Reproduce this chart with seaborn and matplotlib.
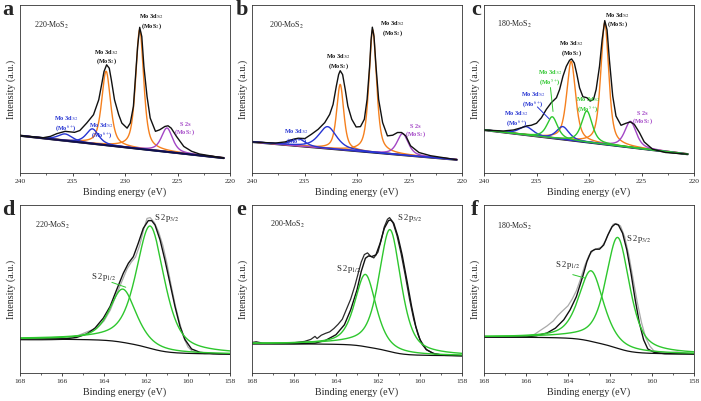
import numpy as np
import matplotlib
matplotlib.use("Agg")
import matplotlib.pyplot as plt
import seaborn as sns
from matplotlib.ticker import MultipleLocator, AutoMinorLocator

# ---------------- Mo 3d panels (a, b, c) ----------------
# measured envelope (black), energies in eV, intensity in a.u. (0-100 axis)
a_env_e = [240.0, 237.8, 237.1, 236.5, 235.7, 234.8, 234.3, 233.65, 233.0, 232.5, 232.2, 232.0, 231.75,
           231.5, 231.3, 231.0, 230.6, 230.3, 229.8, 229.5, 229.2, 229.0, 228.8, 228.6, 228.4, 228.2,
           227.9, 227.6, 227.1, 226.7, 226.2, 225.9, 225.6, 225.1, 224.4, 223.65, 222.9, 220.6]
a_env_y = [22.2, 21.0, 21.8, 23.4, 24.8, 24.2, 25.3, 29.7, 34.7, 43.6, 53.5, 60.4, 64.4,
           62.4, 55.4, 43.6, 34.7, 29.7, 26.7, 29.7, 39.6, 57.4, 75.2, 86.7, 81.2, 63.4,
           45.5, 32.7, 24.8, 25.7, 27.7, 28.1, 26.7, 21.8, 15.8, 12.9, 11.3, 8.9]
a_span = [240.0, 220.6]
a_base = [22.2, 8.9]
a_centers = [228.6, 231.8, 226.0, 233.1, 235.7]
a_heights = [71.0, 44.0, 14.2, 8.8, 4.0]
a_fwhm = [0.9, 1.0, 1.25, 1.4, 1.6]
a_kind = ["MoS2", "MoS2", "S2s", "Mo6", "Mo6"]

b_env_e = [240.0, 237.8, 236.85, 236.06, 235.6, 234.96, 234.33, 233.7, 233.07, 232.6, 232.28, 231.97,
           231.75, 231.6, 231.37, 231.12, 230.87, 230.5, 230.08, 229.67, 229.3, 229.04, 228.8, 228.66,
           228.54, 228.38, 228.19, 227.94, 227.56, 227.1, 226.6, 226.14, 225.76, 225.35, 224.9, 224.1,
           223.0, 220.5]
b_env_y = [18.5, 17.8, 18.5, 20.1, 20.7, 20.5, 23.1, 26.0, 30.0, 34.9, 40.8, 51.7,
           58.6, 60.9, 58.6, 49.7, 39.8, 32.0, 27.4, 27.6, 32.0, 43.8, 63.5, 79.3,
           86.8, 81.3, 63.5, 43.8, 30.0, 22.1, 22.5, 24.1, 24.1, 22.1, 16.2, 12.2,
           10.3, 7.9]
b_span = [240.0, 220.5]
b_base = [18.5, 7.9]
b_centers = [228.5, 231.6, 225.65, 232.8, 235.6]
b_heights = [73.0, 38.8, 12.8, 13.0, 4.3]
b_fwhm = [0.85, 0.8, 1.25, 2.0, 1.6]
b_kind = ["MoS2", "MoS2", "S2s", "Mo6", "Mo6"]

c_env_e = [240.0, 238.17, 237.2, 236.4, 235.96, 235.5, 235.0, 234.53, 234.06, 233.6, 233.1, 232.8,
           232.48, 232.16, 231.85, 231.66, 231.4, 231.15, 230.9, 230.58, 230.2, 229.89, 229.57, 229.32,
           229.0, 228.75, 228.5, 228.28, 228.06, 227.74, 227.43, 226.95, 226.48, 226.07, 225.69, 225.2,
           224.74, 223.95, 222.7, 220.63]
c_env_y = [25.6, 25.0, 25.6, 27.0, 28.0, 28.4, 29.6, 32.9, 37.9, 41.8, 44.8, 49.7,
           57.6, 63.5, 67.1, 67.9, 65.5, 58.6, 50.7, 45.4, 44.8, 42.8, 43.8, 49.7,
           63.5, 79.3, 90.7, 85.2, 67.5, 45.8, 33.9, 28.4, 29.6, 30.4, 29.0, 24.1,
           18.5, 14.2, 12.2, 11.2]
c_span = [240.0, 220.6]
c_base = [25.6, 11.2]
c_centers = [228.5, 231.7, 226.05, 232.5, 236.0, 230.2, 233.5]
c_heights = [72.4, 47.0, 15.5, 7.6, 5.0, 18.6, 12.7]
c_fwhm = [0.9, 1.0, 1.3, 1.4, 1.6, 1.2, 1.2]
c_kind = ["MoS2", "MoS2", "S2s", "Mo6", "Mo6", "Mo5", "Mo5"]

# ---------------- S 2p panels (d, e, f) ----------------
d_env_e = [168.0, 165.78, 165.3, 164.83, 164.43, 164.03, 163.71, 163.4, 163.08, 162.84, 162.6, 162.37,
           162.13, 161.89, 161.73, 161.57, 161.33, 161.1, 160.86, 160.62, 160.38, 160.14, 159.83,
           159.43, 158.8, 158.0]
d_env_y = [20.2, 20.4, 21.2, 23.2, 26.7, 32.7, 39.6, 49.5, 59.4, 65.3, 69.3, 77.2,
           86.1, 90.7, 90.7, 88.1, 79.2, 67.3, 53.5, 39.6, 27.7, 19.8, 14.3,
           12.3, 11.5, 11.3]
d_raw_e = [168.0, 167.5, 167.0, 166.5, 166.0, 165.5, 165.2, 164.8, 164.5, 164.2, 164.0, 163.7, 163.4,
           163.1, 162.9, 162.7, 162.5, 162.3, 162.1, 161.95, 161.8, 161.6, 161.4, 161.2, 161.0, 160.8,
           160.6, 160.4, 160.2, 160.0, 159.8, 159.5, 159.2, 158.8, 158.5, 158.0]
d_raw_y = [19.5, 19.4, 19.4, 19.6, 20.0, 21.5, 22.5, 24.5, 26.0, 28.5, 31.0, 37.5, 47.0,
           56.0, 62.0, 66.0, 69.0, 76.0, 86.0, 92.0, 92.5, 89.5, 84.0, 76.0, 65.0, 52.0,
           40.0, 30.0, 21.0, 15.5, 13.0, 12.0, 11.5, 11.8, 11.2, 11.3]
d_shirley = [20.2, 11.3]   # high-BE and low-BE background level
d_centers = [161.8, 163.1]
d_heights = [72.8, 31.7]
d_fwhm = [1.6, 1.5]

e_env_e = [168.0, 166.0, 165.0, 164.5, 164.0, 163.6, 163.3, 163.0, 162.8, 162.6, 162.45, 162.3, 162.1,
           161.9, 161.7, 161.5, 161.4, 161.25, 161.05, 160.85, 160.6, 160.4, 160.2, 160.0, 159.7,
           159.3, 158.8, 158.0]
e_env_y = [17.4, 17.4, 17.8, 19.4, 22.8, 28.7, 37.6, 49.5, 60.4, 68.3, 69.7, 69.3, 70.3,
           77.2, 86.1, 90.7, 91.1, 89.1, 81.2, 70.3, 53.5, 39.6, 27.7, 19.8, 13.9,
           11.3, 10.5, 10.3]
e_raw_e = [168.0, 167.8, 167.5, 167.0, 166.5, 166.0, 165.5, 165.2, 165.0, 164.9, 164.7, 164.5, 164.3,
           164.1, 163.9, 163.7, 163.5, 163.3, 163.1, 162.95, 162.8, 162.65, 162.5, 162.35, 162.2, 162.0,
           161.85, 161.7, 161.55, 161.45, 161.3, 161.1, 160.9, 160.7, 160.5, 160.3, 160.1, 159.9, 159.7,
           159.4, 159.0, 158.5, 158.0]
e_raw_y = [18.2, 18.6, 17.8, 17.6, 17.6, 18.0, 18.8, 20.0, 21.8, 20.5, 22.5, 23.6, 24.5,
           26.5, 29.0, 32.0, 38.0, 44.0, 52.0, 59.0, 66.0, 70.5, 71.5, 69.5, 68.5, 72.0,
           79.0, 87.0, 91.5, 92.5, 90.0, 82.0, 71.0, 58.0, 44.0, 32.0, 23.0, 17.0, 14.0,
           11.8, 10.8, 10.5, 10.3]
e_shirley = [17.4, 10.3]
e_centers = [161.43, 162.6]
e_heights = [72.6, 43.0]
e_fwhm = [1.25, 1.2]

f_env_e = [168.0, 166.0, 165.5, 165.0, 164.6, 164.2, 163.9, 163.6, 163.3, 163.1, 162.9, 162.7, 162.5,
           162.3, 162.1, 161.9, 161.75, 161.6, 161.4, 161.2, 161.0, 160.8, 160.6, 160.4, 160.2, 159.9,
           159.4, 158.0]
f_env_y = [21.4, 21.4, 22.2, 23.8, 26.7, 31.7, 37.6, 45.5, 57.4, 66.3, 72.3, 73.7, 73.7,
           76.2, 82.2, 87.1, 88.7, 88.1, 83.2, 73.3, 59.4, 43.6, 29.7, 19.8, 14.3, 12.3,
           11.5, 11.3]
f_raw_e = [168.0, 167.5, 167.0, 166.5, 166.0, 165.6, 165.3, 165.0, 164.7, 164.5, 164.3, 164.0, 163.8,
           163.6, 163.4, 163.2, 163.0, 162.8, 162.6, 162.4, 162.2, 162.0, 161.85, 161.7, 161.5, 161.3,
           161.1, 160.9, 160.7, 160.5, 160.3, 160.1, 159.9, 159.6, 159.2, 158.8, 158.4, 158.0]
f_raw_y = [21.8, 21.4, 21.2, 21.4, 21.8, 23.0, 25.5, 28.0, 31.0, 34.0, 36.5, 40.0, 44.0,
           49.0, 56.0, 64.0, 70.0, 73.0, 74.0, 75.0, 79.0, 85.0, 88.5, 89.0, 87.5, 81.0,
           70.0, 56.0, 42.0, 30.0, 21.0, 16.0, 13.0, 12.5, 12.0, 12.5, 11.8, 11.5]
f_shirley = [21.4, 11.3]
f_centers = [161.63, 162.9]
f_heights = [66.0, 42.0]
f_fwhm = [1.35, 1.4]

# ---------------- styles ----------------
ORANGE = "#F5801E"
BLUE = "#2634D2"
PURPLE = "#A346C6"
GREEN = "#2EC72E"
GRAY = "#A9A9A9"
BLACK = "#111111"
kind_color = {"MoS2": ORANGE, "S2s": PURPLE, "Mo6": BLUE, "Mo5": GREEN}

sns.set_style("ticks")
plt.rcParams["font.family"] = ["Liberation Serif", "DejaVu Serif"]
plt.rcParams["mathtext.fontset"] = "stix"


def pvoigt(E, c, h, w, eta=0.6):
    x = (E - c) / (w / 2.0)
    return h * (eta / (1 + x ** 2) + (1 - eta) * np.exp(-np.log(2) * x ** 2))


def line(ax, x, y, color, lw=1.0):
    sns.lineplot(x=np.asarray(x), y=np.asarray(y), ax=ax, color=color, lw=lw,
                 sort=False, estimator=None)


def style_axes(ax, xlim, major):
    ax.set_xlim(*xlim)
    ax.set_ylim(0, 100)
    ax.xaxis.set_major_locator(MultipleLocator(major))
    ax.xaxis.set_minor_locator(AutoMinorLocator(2))
    ax.set_yticks([])
    ax.tick_params(axis="x", which="major", direction="out", length=2.5, width=0.6,
                   labelsize=5.4, pad=2)
    ax.tick_params(axis="x", which="minor", direction="out", length=1.5, width=0.5)
    for s in ax.spines.values():
        s.set_linewidth(0.6)
        s.set_color("#333333")
    ax.set_xlabel("Binding energy (eV)", fontsize=7.2, labelpad=2)
    ax.set_ylabel("Intensity (a.u.)", fontsize=7.2, labelpad=3)


def mo_panel(ax, env_e, env_y, span, base, centers, heights, fwhm, kinds, dark_base=False):
    E = np.linspace(span[0], span[1], 700)
    bg = base[0] + (base[1] - base[0]) * (E - span[0]) / (span[1] - span[0])
    line(ax, E, bg, BLACK, lw=1.6)
    for k in ["MoS2", "S2s", "Mo6", "Mo5"]:
        for c, h, w, kk in zip(centers, heights, fwhm, kinds):
            if kk == k:
                line(ax, E, bg + pvoigt(E, c, h, w), kind_color[k], lw=1.0)
    if dark_base:
        line(ax, E, bg, "#10104a", lw=1.4)
    line(ax, env_e, env_y, BLACK, lw=1.0)
    style_axes(ax, (240, 220), 5)


def s_panel(ax, env_e, env_y, raw_e, raw_y, shirley, centers, heights, fwhm, raw_color):
    E = np.linspace(158, 168, 801)
    peaks = [pvoigt(E, c, h, w) for c, h, w in zip(centers, heights, fwhm)]
    cum = np.cumsum(sum(peaks))
    bg = shirley[1] + (shirley[0] - shirley[1]) * cum / cum[-1]
    line(ax, raw_e, raw_y, raw_color, lw=0.9)
    line(ax, env_e, env_y, BLACK, lw=1.0)
    line(ax, E, bg, BLACK, lw=0.9)
    for p in peaks:
        line(ax, E, bg + p, GREEN, lw=1.0)
    style_axes(ax, (168, 158), 2)


fig = plt.figure(figsize=(7.01, 4.01), dpi=100)
W, H = 701.0, 401.0
lefts = [20, 252, 484]
tops = [5, 205]
axw, axh = 210, 168
axes = {}
for r, top in enumerate(tops):
    for cidx, left in enumerate(lefts):
        key = "abcdef"[r * 3 + cidx]
        axes[key] = fig.add_axes([left / W, 1 - (top + axh) / H, axw / W, axh / H])

mo_panel(axes["a"], a_env_e, a_env_y, a_span, a_base, a_centers, a_heights, a_fwhm, a_kind, dark_base=True)
mo_panel(axes["b"], b_env_e, b_env_y, b_span, b_base, b_centers, b_heights, b_fwhm, b_kind)
mo_panel(axes["c"], c_env_e, c_env_y, c_span, c_base, c_centers, c_heights, c_fwhm, c_kind)
s_panel(axes["d"], d_env_e, d_env_y, d_raw_e, d_raw_y, d_shirley, d_centers, d_heights, d_fwhm, GRAY)
s_panel(axes["e"], e_env_e, e_env_y, e_raw_e, e_raw_y, e_shirley, e_centers, e_heights, e_fwhm, "#2b2b2b")
s_panel(axes["f"], f_env_e, f_env_y, f_raw_e, f_raw_y, f_shirley, f_centers, f_heights, f_fwhm, GRAY)

# sample names
for key, x, y, name in [("a", 238.7, 88, "220"), ("b", 238.4, 88, "200"), ("c", 238.8, 88.5, "180"),
                        ("d", 167.3, 88, "220"), ("e", 167.16, 88.7, "200"), ("f", 167.37, 87.5, "180")]:
    axes[key].text(x, y, name + "-MoS$_2$", fontsize=5.8, ha="left", va="center")

# Mo 3d annotations
mo_kw = dict(fontsize=4.5, fontweight="bold", ha="center", va="center", linespacing=1.0)
ax = axes["a"]
ax.text(227.5, 90, "Mo 3d$_{5/2}$\n(MoS$_2$)", color=BLACK, **mo_kw)
ax.text(231.75, 69, "Mo 3d$_{3/2}$\n(MoS$_2$)", color=BLACK, **mo_kw)
ax.text(235.6, 29, "Mo 3d$_{3/2}$\n(Mo$^{6+}$)", color=BLUE, **mo_kw)
ax.text(232.2, 25, "Mo 3d$_{5/2}$\n(Mo$^{6+}$)", color=BLUE, **mo_kw)
ax.text(224.3, 26, "S 2s\n(MoS$_2$)", color=PURPLE, **mo_kw)

ax = axes["b"]
ax.text(226.6, 86, "Mo 3d$_{5/2}$\n(MoS$_2$)", color=BLACK, **mo_kw)
ax.text(231.8, 66.5, "Mo 3d$_{3/2}$\n(MoS$_2$)", color=BLACK, **mo_kw)
ax.text(235.75, 21.5, "Mo 3d$_{3/2}$\n(Mo$^{6+}$)", color=BLUE, **mo_kw)
ax.text(224.4, 24.5, "S 2s\n(MoS$_2$)", color=PURPLE, **mo_kw)

ax = axes["c"]
ax.text(227.3, 91, "Mo 3d$_{5/2}$\n(MoS$_2$)", color=BLACK, **mo_kw)
ax.text(231.7, 74, "Mo 3d$_{3/2}$\n(MoS$_2$)", color=BLACK, **mo_kw)
ax.text(233.7, 56.5, "Mo 3d$_{3/2}$\n(Mo$^{5+}$)", color=GREEN, **mo_kw)
ax.text(235.3, 43.5, "Mo 3d$_{5/2}$\n(Mo$^{6+}$)", color=BLUE, **mo_kw)
ax.text(236.9, 32, "Mo 3d$_{3/2}$\n(Mo$^{6+}$)", color=BLUE, **mo_kw)
ax.text(230.1, 40.5, "Mo 3d$_{5/2}$\n(Mo$^{5+}$)", color=GREEN, **mo_kw)
ax.text(224.9, 32.3, "S 2s\n(MoS$_2$)", color=PURPLE, **mo_kw)
ax.annotate("", xy=(233.4, 35), xytext=(233.7, 52.5),
            arrowprops=dict(arrowstyle="-", color=GREEN, lw=0.7))
ax.annotate("", xy=(233.6, 31), xytext=(235.1, 40.5),
            arrowprops=dict(arrowstyle="-", color=BLUE, lw=0.7))

# S 2p annotations
s_kw = dict(fontsize=6.2, ha="left", va="center")
axes["d"].text(161.6, 92, "S 2p$_{3/2}$", **s_kw)
axes["d"].text(164.6, 57, "S 2p$_{1/2}$", **s_kw)
axes["d"].annotate("", xy=(162.84, 50.5), xytext=(163.75, 54.5),
                   arrowprops=dict(arrowstyle="-", color=GREEN, lw=0.7))
axes["e"].text(161.1, 92, "S 2p$_{3/2}$", **s_kw)
axes["e"].text(164.0, 61.8, "S 2p$_{1/2}$", **s_kw)
axes["f"].text(161.24, 79.6, "S 2p$_{3/2}$", **s_kw)
axes["f"].text(164.6, 64.4, "S 2p$_{1/2}$", **s_kw)
axes["f"].annotate("", xy=(163.05, 56), xytext=(163.9, 59),
                   arrowprops=dict(arrowstyle="-", color=GREEN, lw=0.7))

# panel letters
for key, x, y in [("a", 2, 15), ("b", 236, 15), ("c", 471, 15),
                  ("d", 2, 215), ("e", 236, 215), ("f", 471, 215)]:
    fig.text(x / W, 1 - y / H, key, fontsize=16, fontweight="bold", ha="left", va="baseline")

fig.savefig("out.png", dpi=100)
